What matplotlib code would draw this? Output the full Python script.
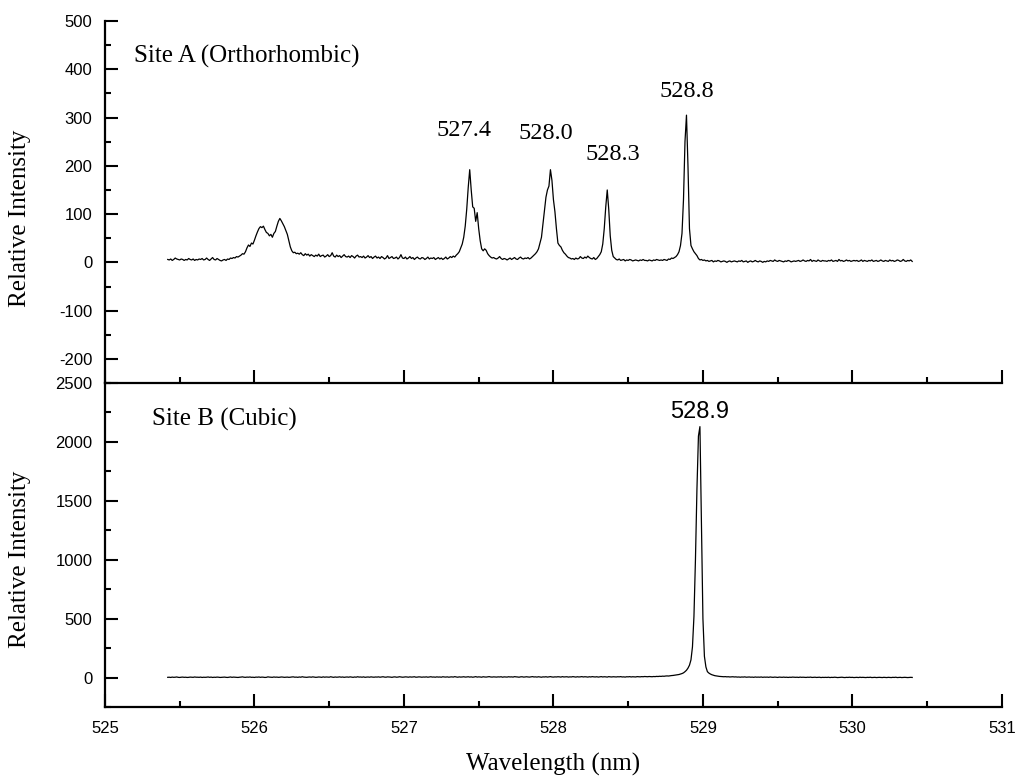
import numpy as np
import matplotlib
matplotlib.use('Agg')
import matplotlib.pyplot as plt
from matplotlib.ticker import MultipleLocator

plt.rcParams['font.family'] = ['Liberation Sans', 'DejaVu Sans']
plt.rcParams['axes.unicode_minus'] = False

# ─── Data ─────────────────────────────────────────────────────────────────────
WL_START = 525.42   # nm, first sample
WL_STEP = 0.01      # nm, spectrometer step

# Site A (orthorhombic) spectrum, one row = 0.2 nm
intensity_a = [
    6, 5, 7, 4, 6, 9, 7, 6, 5, 7, 6, 4, 6, 5, 8, 6, 5, 7, 4, 6,
    5, 7, 6, 8, 5, 6, 9, 6, 4, 7, 10, 6, 5, 8, 6, 4, 3, 5, 6, 4,
    7, 6, 9, 8, 10, 9, 12, 11, 13, 15, 18, 17, 22, 30, 36, 33, 40, 38, 46, 55,
    63, 70, 74, 72, 75, 68, 62, 60, 55, 58, 52, 60, 64, 75, 85, 91, 86, 80, 74, 66,
    58, 45, 32, 24, 20, 21, 18, 19, 17, 20, 16, 14, 18, 15, 17, 13, 16, 14, 12, 15,
    13, 17, 12, 14, 15, 11, 13, 16, 12, 14, 20, 13, 11, 15, 12, 14, 10, 13, 16, 12,
    11, 13, 10, 14, 12, 9, 13, 15, 11, 12, 10, 13, 9, 11, 14, 10, 12, 8, 11, 13,
    9, 11, 8, 12, 10, 7, 9, 14, 8, 10, 12, 8, 9, 11, 7, 10, 16, 9, 8, 11,
    7, 9, 12, 8, 10, 6, 9, 11, 8, 7, 10, 9, 6, 8, 11, 7, 9, 8, 10, 6,
    8, 10, 7, 9, 6, 8, 11, 7, 9, 12, 10, 13, 11, 15, 18, 22, 30, 38, 52, 75,
    110, 155, 192, 150, 115, 112, 85, 103, 70, 45, 28, 24, 28, 25, 18, 14, 11, 9, 10, 8,
    7, 9, 12, 8, 6, 8, 7, 5, 7, 9, 6, 8, 10, 7, 6, 9, 11, 8, 7, 9,
    8, 10, 7, 9, 12, 15, 18, 22, 28, 40, 52, 80, 108, 135, 150, 158, 192, 170, 130, 105,
    70, 40, 35, 32, 25, 20, 17, 13, 10, 9, 7, 8, 6, 9, 7, 8, 12, 9, 8, 11,
    9, 13, 10, 8, 7, 10, 6, 8, 12, 16, 22, 38, 70, 115, 150, 110, 55, 25, 12, 9,
    6, 5, 7, 4, 5, 6, 3, 5, 4, 6, 5, 3, 4, 5, 4, 3, 5, 4, 6, 4,
    4, 3, 5, 4, 3, 5, 4, 6, 5, 4, 5, 4, 6, 5, 4, 7, 6, 9, 8, 10,
    12, 16, 22, 35, 60, 130, 250, 305, 200, 70, 35, 28, 22, 18, 14, 8, 5, 6, 4, 5,
    3, 4, 2, 3, 4, 1, 3, 2, 4, 3, 1, 2, 3, 2, 0, 2, 3, 1, 2, 3,
    2, 1, 3, 2, 4, 1, 2, 3, 0, 2, 3, 1, 2, 4, 2, 1, 3, 2, 0, 2,
    1, 3, 2, 4, 3, 2, 5, 3, 2, 4, 3, 2, 1, 3, 2, 4, 3, 1, 2, 3,
    2, 3, 4, 2, 3, 5, 3, 2, 4, 3, 6, 2, 4, 3, 2, 5, 3, 2, 4, 3,
    3, 2, 4, 3, 5, 2, 3, 4, 2, 6, 3, 4, 2, 3, 5, 3, 4, 2, 3, 4,
    3, 4, 2, 3, 5, 2, 4, 3, 2, 4, 3, 5, 2, 3, 4, 2, 3, 5, 3, 2,
    4, 3, 2, 5, 3, 4, 2, 3, 5, 4, 2, 3, 6, 3, 2, 4, 3, 5, 2,
]

# Site B (cubic) spectrum, same wavelength grid
intensity_b = [
    2, 3, 1, 4, 2, 3, 5, 2, 1, 3, 4, 2, 3, 1, 2, 4, 3, 2, 5, 3,
    3, 2, 4, 1, 3, 2, 3, 5, 2, 4, 1, 3, 2, 4, 3, 1, 2, 3, 4, 2,
    1, 3, 5, 2, 4, 3, 2, 1, 3, 4, 6, 3, 2, 4, 3, 5, 2, 3, 1, 4,
    3, 5, 2, 4, 3, 1, 2, 6, 4, 3, 2, 5, 3, 4, 2, 3, 5, 4, 2, 3,
    4, 2, 3, 5, 6, 3, 4, 2, 5, 3, 7, 4, 3, 2, 4, 5, 3, 6, 4, 2,
    3, 5, 4, 2, 6, 3, 5, 4, 3, 7, 4, 2, 5, 3, 4, 6, 3, 5, 2, 4,
    5, 3, 6, 4, 2, 5, 3, 7, 4, 5, 3, 6, 2, 4, 5, 3, 6, 4, 3, 5,
    4, 6, 3, 5, 7, 4, 3, 6, 5, 4, 2, 5, 6, 3, 4, 7, 5, 3, 4, 6,
    5, 3, 6, 4, 5, 7, 3, 4, 6, 5, 3, 5, 4, 6, 3, 5, 7, 4, 5, 3,
    6, 4, 5, 3, 7, 5, 4, 6, 3, 5, 6, 4, 8, 5, 3, 6, 4, 5, 7, 4,
    5, 7, 4, 6, 3, 5, 8, 4, 6, 5, 3, 7, 5, 4, 6, 8, 5, 4, 6, 5,
    4, 6, 5, 7, 3, 6, 5, 4, 7, 5, 6, 4, 8, 6, 5, 3, 6, 7, 4, 5,
    7, 5, 4, 6, 8, 5, 6, 4, 7, 5, 3, 6, 5, 7, 4, 6, 8, 5, 4, 6,
    5, 7, 6, 4, 8, 5, 6, 7, 4, 6, 5, 8, 6, 4, 7, 5, 6, 8, 5, 7,
    6, 4, 7, 5, 8, 6, 5, 7, 4, 6, 8, 5, 7, 6, 4, 8, 6, 5, 7, 6,
    5, 7, 6, 8, 5, 6, 4, 7, 6, 8, 5, 7, 6, 5, 8, 7, 6, 8, 7, 9,
    8, 7, 9, 8, 7, 9, 8, 10, 9, 11, 10, 12, 11, 13, 14, 13, 15, 17, 18, 20,
    22, 24, 26, 30, 34, 40, 50, 62, 80, 105, 150, 260, 520, 1000, 1600, 2050, 2130, 1300, 500, 180,
    90, 50, 38, 30, 24, 20, 16, 14, 12, 10, 9, 8, 7, 8, 6, 7, 5, 6, 7, 5,
    6, 4, 5, 3, 5, 4, 6, 3, 4, 5, 3, 4, 2, 5, 3, 4, 3, 5, 2, 4,
    3, 4, 2, 5, 3, 2, 4, 3, 1, 4, 3, 2, 4, 2, 3, 1, 3, 2, 4, 3,
    2, 3, 1, 4, 2, 3, 2, 1, 3, 2, 4, 1, 2, 3, 1, 2, 3, 0, 2, 1,
    2, 1, 3, 0, 2, 1, 3, 2, 0, 1, 2, 3, 1, 0, 2, 1, 3, 1, 2, 0,
    1, 2, 0, 3, 1, 2, 1, 0, 2, 1, 3, 0, 1, 2, 0, 1, 2, 1, 0, 2,
    1, 0, 2, 1, 0, 2, 1, 3, 0, 1, 2, 0, 1, 2, 1, 0, 1, 2, 1,
]

wavelength = np.round(WL_START + WL_STEP * np.arange(len(intensity_a)), 2)

# peak labels: text, x, y (data coords)
peak_labels_a = ['527.4', '528.0', '528.3', '528.8']
peak_label_x_a = [527.40, 527.95, 528.40, 528.89]
peak_label_y_a = [273, 267, 224, 354]
peak_label_b = '528.9'
peak_label_x_b = 528.98
peak_label_y_b = 2254

SERIF = 'Liberation Serif'

# ─── Figure ───────────────────────────────────────────────────────────────────
fig = plt.figure(figsize=(10.15, 7.79), dpi=100)
ax_a = fig.add_axes([0.1034, 0.5083, 0.8837, 0.4647])
ax_b = fig.add_axes([0.1034, 0.0924, 0.8837, 0.4159])

ax_a.plot(wavelength, intensity_a, color='black', linewidth=0.9)
ax_b.plot(wavelength, intensity_b, color='black', linewidth=0.9)

ax_a.set_ylim(-250, 500)
ax_b.set_ylim(-250, 2500)
ax_a.set_yticks(np.arange(-200, 501, 100))
ax_a.yaxis.set_minor_locator(MultipleLocator(50))
ax_b.set_yticks(np.arange(0, 2501, 500))
ax_b.yaxis.set_minor_locator(MultipleLocator(250))

for ax in (ax_a, ax_b):
    ax.set_xlim(525, 531)
    ax.xaxis.set_major_locator(MultipleLocator(1))
    ax.xaxis.set_minor_locator(MultipleLocator(0.5))
    for side in ('top', 'right'):
        ax.spines[side].set_visible(False)
    for side in ('left', 'bottom'):
        ax.spines[side].set_linewidth(1.6)
    ax.tick_params(which='major', direction='in', length=9.4, width=1.5)
    ax.tick_params(which='minor', direction='in', length=4.6, width=1.5)
    ax.tick_params(axis='y', which='both', pad=9, labelsize=12)
    ax.patch.set_alpha(0)
    ax.set_ylabel('Relative Intensity', fontsize=18, family=SERIF)
    ax.yaxis.set_label_coords(-0.082, 0.455)

ax_a.tick_params(axis='x', labelbottom=False)
ax_b.tick_params(axis='x', which='both', pad=10, labelsize=12)
ax_b.set_xlabel('Wavelength (nm)', fontsize=18, family=SERIF)
ax_b.xaxis.set_label_coords(0.5, -0.142)

ax_a.text(0.032, 0.903, 'Site A (Orthorhombic)', transform=ax_a.transAxes,
          fontsize=18, family=SERIF, ha='left', va='center')
ax_b.text(0.052, 0.889, 'Site B (Cubic)', transform=ax_b.transAxes,
          fontsize=18, family=SERIF, ha='left', va='center')

for txt, x, y in zip(peak_labels_a, peak_label_x_a, peak_label_y_a):
    ax_a.text(x, y, txt, fontsize=17.5, family=SERIF, ha='center', va='center')
ax_b.text(peak_label_x_b, peak_label_y_b, peak_label_b, fontsize=17,
          ha='center', va='center')

fig.savefig('out.png', dpi=100)
